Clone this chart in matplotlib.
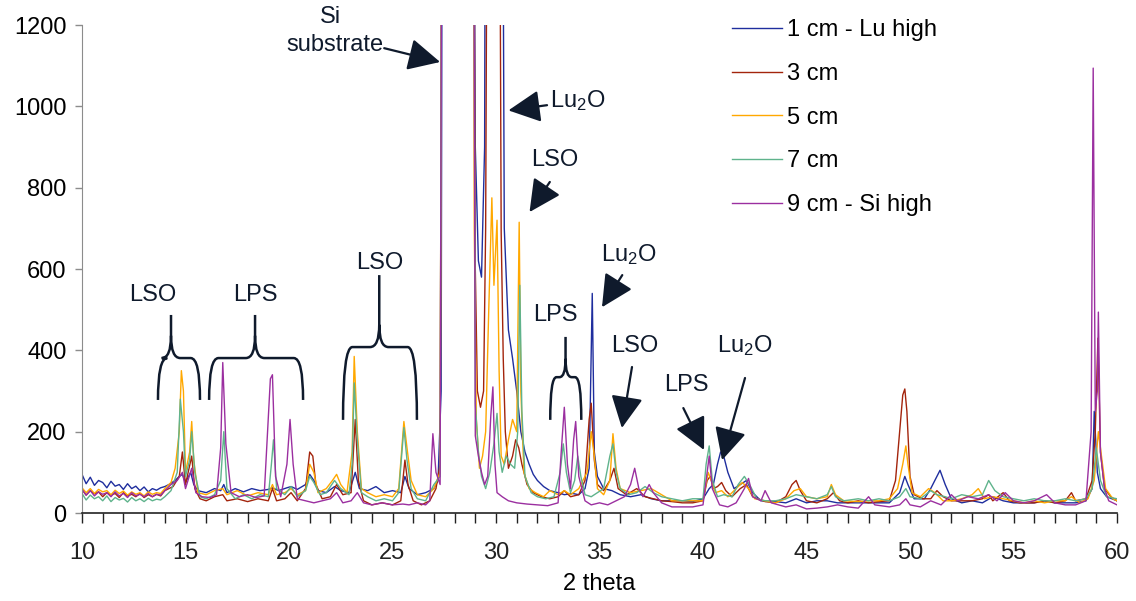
import numpy as np
import matplotlib
matplotlib.use("Agg")
import matplotlib.pyplot as plt
from matplotlib.path import Path
from matplotlib.patches import PathPatch

plt.rcParams['font.family'] = ['Liberation Sans', 'DejaVu Sans']
plt.rcParams['mathtext.default'] = 'regular'

labels = ["1 cm - Lu high", "3 cm", "5 cm", "7 cm", "9 cm - Si high"]
colors = ["#1f2e9e", "#a3240c", "#ffa800", "#5fb38c", "#9b2fa0"]

cm1 = [(10.0, 95), (10.2, 72), (10.4, 88), (10.6, 68), (10.8, 80), (11.0, 75), (11.2, 62), (11.4, 78),
       (11.6, 66), (11.8, 70), (12.0, 58), (12.2, 72), (12.4, 60), (12.6, 66), (12.8, 55), (13.0, 64),
       (13.2, 52), (13.4, 60), (13.6, 56), (13.8, 62), (14.0, 65), (14.2, 70), (14.5, 80), (14.7, 90),
       (14.85, 95), (15.0, 75),
       (15.25, 100), (15.4, 70), (15.6, 55), (16.0, 50), (16.4, 60), (16.7, 55), (16.85, 70), (17.0, 50),
       (17.4, 60), (17.8, 52), (18.2, 60), (18.6, 55), (19.0, 58), (19.2, 62), (19.5, 55), (19.9, 62),
       (20.1, 65), (20.4, 58), (20.8, 70), (21.0, 95), (21.2, 80), (21.4, 55), (21.8, 50), (22.2, 65),
       (22.5, 55), (22.9, 50), (23.2, 100), (23.4, 60), (23.8, 55), (24.2, 65), (24.6, 50), (25.0, 55),
       (25.4, 50), (25.6, 90), (25.8, 60), (26.2, 45), (26.6, 50), (27.0, 60), (27.2, 80), (27.35, 300),
       (27.45, 3000), (28.8, 3000), (29.0, 900), (29.15, 620), (29.3, 580), (29.45, 900), (29.5, 2000),
       (30.3, 2000), (30.4, 700), (30.6, 450), (30.8, 380), (31.0, 300), (31.2, 200), (31.4, 150),
       (31.6, 120), (31.8, 95), (32.0, 80), (32.3, 65), (32.6, 55), (33.0, 50), (33.3, 45), (33.7, 48),
       (34.0, 45), (34.3, 60), (34.5, 110), (34.65, 540), (34.75, 150), (34.9, 90), (35.2, 60), (35.6, 55),
       (36.0, 45), (36.5, 40), (37.0, 45), (37.5, 35), (38.0, 30), (38.5, 30), (39.0, 30), (39.5, 28),
       (40.0, 35), (40.3, 60), (40.5, 70), (40.7, 120), (40.85, 150), (41.0, 140), (41.2, 100), (41.5, 60),
       (41.8, 70), (42.1, 80), (42.4, 50), (42.8, 30), (43.5, 28), (44.0, 25), (44.5, 35), (45.0, 25),
       (45.5, 30), (46.0, 30), (46.5, 25), (47.0, 25), (47.5, 25), (48.0, 25), (48.5, 25), (49.0, 25),
       (49.5, 50), (49.75, 90), (49.9, 70), (50.2, 35), (50.7, 35), (51.0, 60), (51.3, 90), (51.45, 105),
       (51.7, 70), (52.0, 35), (52.5, 25), (53.0, 30), (53.5, 25), (54.0, 40), (54.5, 30), (55.0, 25),
       (55.5, 25), (56.0, 25), (56.5, 30), (57.0, 25), (57.5, 25), (58.0, 25), (58.5, 30), (58.8, 60),
       (58.9, 250), (59.05, 100), (59.2, 60), (59.5, 40), (60.0, 30)]

cm3 = [(10.0, 58), (10.2, 44), (10.4, 55), (10.6, 47), (10.8, 52), (11.0, 40), (11.2, 50), (11.4, 44),
       (11.6, 48), (11.8, 38), (12.0, 50), (12.2, 42), (12.4, 46), (12.6, 40), (12.8, 48), (13.0, 38),
       (13.2, 45), (13.4, 40), (13.6, 46), (13.8, 42), (14.0, 55), (14.4, 65), (14.7, 90), (14.85, 150),
       (15.0, 70), (15.3, 140),
       (15.45, 60), (15.7, 35), (16.0, 30), (16.4, 40), (16.8, 45), (17.0, 30), (17.5, 35), (18.0, 28),
       (18.5, 35), (19.0, 30), (19.2, 60), (19.4, 30), (19.8, 35), (20.1, 50), (20.4, 30), (20.8, 60),
       (21.0, 150), (21.15, 140), (21.3, 70), (21.6, 35), (22.0, 40), (22.3, 70), (22.6, 45), (23.0, 50),
       (23.2, 230), (23.35, 80), (23.6, 30), (24.0, 20), (24.5, 25), (25.0, 20), (25.4, 30), (25.6, 130),
       (25.75, 70), (26.0, 30), (26.4, 20), (26.8, 30), (27.1, 60), (27.3, 120), (27.45, 3000),
       (28.85, 3000), (29.0, 600), (29.1, 300), (29.25, 260), (29.4, 300), (29.5, 700), (29.6, 2000),
       (30.15, 2000), (30.25, 690), (30.35, 380), (30.45, 200), (30.6, 110), (30.8, 140), (30.95, 180),
       (31.1, 160), (31.25, 120), (31.5, 70), (31.8, 50), (32.2, 40), (32.6, 35), (33.0, 40), (33.3, 55),
       (33.6, 40), (34.0, 45), (34.3, 80), (34.5, 230), (34.6, 270), (34.75, 130), (34.9, 70), (35.2, 55),
       (35.5, 80), (35.7, 110), (35.9, 60), (36.3, 45), (36.8, 60), (37.2, 40), (37.6, 35), (38.0, 30),
       (38.5, 28), (39.0, 25), (39.5, 25), (40.0, 30), (40.2, 80), (40.35, 90), (40.5, 60), (40.7, 65),
       (40.9, 75), (41.1, 55), (41.4, 40), (41.8, 60), (42.1, 70), (42.4, 40), (43.0, 28), (43.5, 25),
       (44.0, 40), (44.3, 70), (44.5, 80), (44.7, 55), (45.0, 30), (45.5, 25), (46.0, 35), (46.3, 50),
       (46.6, 30), (47.0, 25), (47.5, 30), (48.0, 25), (48.5, 28), (49.0, 30), (49.3, 80), (49.5, 200),
       (49.65, 290), (49.75, 305), (49.85, 250), (50.0, 90), (50.2, 45), (50.6, 35), (51.0, 35), (51.3, 55),
       (51.6, 40), (52.0, 30), (52.5, 30), (53.0, 30), (53.5, 35), (53.8, 45), (54.0, 30), (54.5, 50),
       (54.8, 30), (55.3, 25), (56.0, 25), (56.5, 30), (57.0, 25), (57.5, 30), (57.8, 50), (58.0, 30),
       (58.5, 35), (58.8, 80), (58.95, 200), (59.08, 430), (59.2, 150), (59.4, 60), (59.7, 40), (60.0, 30)]

cm5 = [(10.0, 62), (10.2, 50), (10.4, 60), (10.6, 48), (10.8, 58), (11.0, 52), (11.2, 55), (11.4, 45),
       (11.6, 56), (11.8, 48), (12.0, 54), (12.2, 44), (12.4, 52), (12.6, 46), (12.8, 50), (13.0, 42),
       (13.2, 52), (13.4, 46), (13.6, 50), (13.8, 48), (14.0, 60), (14.3, 75), (14.5, 110), (14.7, 200),
       (14.8, 350), (14.9, 300),
       (15.0, 100), (15.2, 150), (15.3, 225), (15.4, 130), (15.6, 50), (16.0, 45), (16.4, 55), (16.8, 60),
       (17.0, 45), (17.5, 55), (18.0, 42), (18.5, 50), (19.0, 45), (19.2, 70), (19.4, 45), (19.8, 50),
       (20.1, 60), (20.4, 45), (20.8, 55), (21.0, 120), (21.2, 100), (21.4, 50), (21.8, 60), (22.1, 80),
       (22.3, 95), (22.5, 70), (22.8, 50), (23.05, 150), (23.15, 385), (23.3, 200), (23.5, 60), (23.8, 50),
       (24.2, 40), (24.6, 45), (25.0, 40), (25.3, 60), (25.55, 225), (25.7, 160), (25.9, 80), (26.2, 45),
       (26.6, 40), (27.0, 60), (27.3, 100), (27.45, 3000), (28.85, 3000), (28.95, 700), (29.05, 230),
       (29.2, 110), (29.35, 140), (29.5, 200), (29.65, 500), (29.8, 775), (29.9, 560), (30.05, 720),
       (30.15, 350), (30.25, 140), (30.4, 120), (30.6, 180), (30.8, 230), (31.0, 200), (31.12, 715),
       (31.2, 300), (31.35, 100), (31.6, 60), (31.9, 50), (32.3, 40), (32.6, 55), (33.0, 45), (33.3, 55),
       (33.6, 45), (34.0, 60), (34.4, 100), (34.6, 200), (34.75, 140), (34.9, 60), (35.2, 45), (35.5, 80),
       (35.65, 195), (35.8, 110), (36.0, 60), (36.5, 50), (37.0, 55), (37.5, 60), (38.0, 45), (38.5, 30),
       (39.0, 30), (39.5, 30), (40.0, 30), (40.25, 100), (40.4, 80), (40.6, 50), (40.9, 55), (41.2, 40),
       (41.6, 60), (41.9, 75), (42.2, 60), (42.5, 35), (43.0, 30), (43.5, 25), (44.0, 35), (44.4, 55),
       (44.7, 60), (45.0, 40), (45.5, 35), (46.0, 40), (46.2, 70), (46.4, 45), (46.8, 30), (47.5, 28),
       (48.0, 30), (48.5, 30), (49.0, 35), (49.4, 60), (49.65, 120), (49.8, 165), (49.9, 120), (50.1, 50),
       (50.5, 40), (50.9, 60), (51.2, 50), (51.6, 30), (52.0, 30), (52.5, 35), (53.0, 45), (53.3, 60),
       (53.6, 35), (54.0, 40), (54.5, 35), (55.0, 30), (55.5, 25), (56.0, 30), (56.5, 25), (57.0, 30),
       (57.5, 30), (57.8, 40), (58.2, 25), (58.6, 35), (58.9, 80), (59.1, 200), (59.25, 140), (59.45, 60),
       (59.8, 35), (60.0, 30)]

cm7 = [(10.0, 48), (10.2, 32), (10.4, 44), (10.6, 35), (10.8, 40), (11.0, 30), (11.2, 42), (11.4, 28),
       (11.6, 38), (11.8, 32), (12.0, 36), (12.2, 27), (12.4, 38), (12.6, 30), (12.8, 35), (13.0, 28),
       (13.2, 36), (13.4, 30), (13.6, 34), (13.8, 32), (14.0, 40), (14.3, 55), (14.6, 100), (14.75, 280),
       (14.9, 200), (15.0, 90),
       (15.2, 130), (15.3, 200), (15.45, 100), (15.7, 40), (16.0, 35), (16.4, 45), (16.7, 80), (16.85, 200),
       (17.0, 60), (17.4, 35), (17.8, 45), (18.2, 35), (18.6, 45), (19.0, 40), (19.15, 120), (19.25, 180),
       (19.4, 60), (19.8, 45), (20.1, 65), (20.4, 40), (20.8, 55), (21.0, 90), (21.2, 75), (21.5, 45),
       (21.8, 50), (22.2, 80), (22.5, 60), (22.9, 45), (23.05, 120), (23.15, 320), (23.3, 180), (23.5, 50),
       (23.8, 40), (24.2, 30), (24.6, 35), (25.0, 30), (25.3, 50), (25.55, 210), (25.7, 130), (25.9, 60),
       (26.2, 35), (26.6, 30), (27.0, 70), (27.3, 90), (27.45, 3000), (28.85, 3000), (29.0, 270),
       (29.15, 150), (29.3, 90), (29.5, 60), (29.7, 100), (29.9, 170), (30.05, 245), (30.15, 150),
       (30.3, 100), (30.5, 140), (30.7, 120), (30.9, 110), (31.05, 200), (31.15, 560), (31.25, 250),
       (31.4, 90), (31.7, 50), (32.0, 40), (32.4, 35), (32.8, 40), (33.1, 100), (33.25, 170), (33.4, 100),
       (33.6, 50), (33.8, 80), (33.95, 140), (34.1, 90), (34.3, 45), (34.6, 40), (34.9, 50), (35.2, 60),
       (35.5, 140), (35.65, 170), (35.8, 100), (36.0, 60), (36.4, 45), (36.8, 50), (37.2, 65), (37.6, 50),
       (38.0, 40), (38.5, 35), (39.0, 30), (39.5, 35), (40.0, 35), (40.15, 120), (40.3, 165), (40.45, 80),
       (40.7, 40), (41.0, 45), (41.4, 40), (41.7, 70), (42.0, 90), (42.3, 65), (42.6, 35), (43.0, 30),
       (43.5, 30), (44.0, 35), (44.5, 45), (45.0, 40), (45.5, 35), (46.0, 45), (46.2, 65), (46.4, 40),
       (46.8, 30), (47.5, 35), (48.0, 30), (48.5, 35), (49.0, 30), (49.5, 40), (49.8, 60), (50.0, 40),
       (50.5, 35), (51.0, 55), (51.3, 45), (51.7, 40), (52.0, 35), (52.5, 45), (53.0, 40), (53.5, 45),
       (53.8, 80), (54.1, 55), (54.5, 40), (55.0, 35), (55.5, 30), (56.0, 35), (56.5, 30), (57.0, 30),
       (57.5, 35), (58.0, 30), (58.5, 35), (58.8, 60), (59.0, 160), (59.2, 80), (59.5, 40), (60.0, 35)]

cm9 = [(10.0, 58), (10.2, 44), (10.4, 55), (10.6, 42), (10.8, 52), (11.0, 46), (11.2, 50), (11.4, 40),
       (11.6, 52), (11.8, 42), (12.0, 48), (12.2, 38), (12.4, 50), (12.6, 42), (12.8, 46), (13.0, 40),
       (13.2, 48), (13.4, 40), (13.6, 46), (13.8, 44), (14.0, 55), (14.3, 70), (14.6, 80), (14.85, 100),
       (15.0, 60), (15.3, 110),
       (15.5, 50), (15.8, 40), (16.2, 38), (16.5, 45), (16.7, 160), (16.8, 370), (16.95, 170), (17.2, 50),
       (17.6, 40), (18.0, 45), (18.4, 38), (18.8, 42), (19.1, 330), (19.2, 340), (19.35, 90), (19.6, 40),
       (19.9, 120), (20.05, 230), (20.2, 120), (20.4, 35), (20.8, 30), (21.2, 25), (21.6, 30), (22.0, 35),
       (22.3, 50), (22.6, 25), (23.0, 30), (23.3, 50), (23.6, 25), (24.0, 20), (24.5, 25), (25.0, 20),
       (25.5, 22), (25.8, 20), (26.2, 25), (26.6, 20), (26.8, 30), (26.95, 195), (27.1, 100), (27.3, 70),
       (27.45, 3000), (28.85, 3000), (29.0, 190), (29.15, 140), (29.3, 100), (29.45, 70), (29.6, 90),
       (29.75, 240), (29.85, 310), (29.95, 120), (30.05, 50), (30.3, 40), (30.6, 30), (31.0, 25),
       (31.5, 22), (32.0, 20), (32.5, 18), (33.0, 25), (33.15, 150), (33.3, 260), (33.45, 120), (33.6, 60),
       (33.75, 180), (33.85, 225), (34.0, 90), (34.3, 30), (34.6, 20), (35.0, 25), (35.4, 20), (35.8, 30),
       (36.2, 40), (36.5, 70), (36.7, 110), (36.9, 60), (37.1, 40), (37.4, 70), (37.6, 50), (38.0, 25),
       (38.5, 15), (39.0, 15), (39.5, 15), (40.0, 20), (40.2, 100), (40.3, 140), (40.45, 60), (40.8, 20),
       (41.2, 15), (41.6, 25), (42.0, 60), (42.2, 85), (42.4, 40), (42.8, 30), (43.0, 55), (43.3, 25),
       (44.0, 15), (44.5, 20), (45.0, 10), (45.5, 12), (46.0, 15), (46.5, 20), (47.0, 15), (47.5, 12),
       (48.0, 40), (48.3, 20), (49.0, 15), (49.5, 20), (49.8, 35), (50.0, 20), (50.5, 15), (51.0, 30),
       (51.5, 20), (52.0, 45), (52.3, 30), (52.8, 40), (53.3, 35), (53.8, 45), (54.2, 30), (54.6, 50),
       (55.0, 30), (55.5, 25), (56.0, 30), (56.6, 45), (57.0, 25), (57.5, 20), (58.0, 20), (58.5, 30),
       (58.75, 200), (58.85, 1094), (58.95, 250), (59.05, 300), (59.1, 494), (59.2, 150), (59.4, 60),
       (59.6, 30), (59.8, 25), (60.0, 20)]

series = [cm1, cm3, cm5, cm7, cm9]

fig = plt.figure(figsize=(11.36, 6.01), dpi=100)
ax = fig.add_axes([82 / 1136, 88 / 601, 1035 / 1136, 488 / 601])

for data, lab, col in zip(series, labels, colors):
    arr = np.array(data, dtype=float)
    ax.plot(arr[:, 0], arr[:, 1], color=col, lw=1.0, label=lab)

ax.set_xlim(10, 60)
ax.set_ylim(0, 1200)
ax.set_xticks(np.arange(10, 61, 5))
ax.set_xticks(np.arange(10, 61, 1), minor=True)
ax.set_yticks(np.arange(0, 1201, 200))
for s in ['top', 'right']:
    ax.spines[s].set_visible(False)
ax.spines['left'].set_color('#8c8c8c')
ax.spines['bottom'].set_color('#222222')
ax.spines['bottom'].set_linewidth(1.2)
ax.tick_params(axis='x', which='both', direction='out', length=7, width=1.0, colors='#222222',
               labelsize=17, pad=14)
ax.tick_params(axis='y', which='major', direction='out', length=5, width=1.0, colors='#8c8c8c',
               labelcolor='black', labelsize=17, pad=6)
ax.set_xlabel('2 theta', fontsize=17, labelpad=6)

leg = ax.legend(loc='upper left', bbox_to_anchor=(732 / 1136, 0.968), bbox_transform=fig.transFigure,
                frameon=False, fontsize=17, handlelength=2.1, handletextpad=0.25, labelspacing=0.92,
                borderpad=0, borderaxespad=0)

ink = '#0f1a2c'
arrow = dict(arrowstyle='-|>,head_length=0.9,head_width=0.45', color=ink, lw=1.6,
             shrinkA=0, shrinkB=0, mutation_scale=22)
fs = 17

# Si substrate
ax.text(22.0, 1220, 'Si', fontsize=fs, ha='center', va='center', color=ink, clip_on=False)
ax.text(22.2, 1152, 'substrate', fontsize=fs, ha='center', va='center', color=ink, clip_on=False)
ax.annotate('', xy=(27.3, 1109), xytext=(24.6, 1143), arrowprops=arrow, annotation_clip=False)
# Lu2O near 30
ax.annotate('Lu$_2$O', xy=(30.6, 990), xytext=(32.6, 1013), fontsize=fs, color=ink,
            ha='left', va='center', arrowprops=arrow)
# LSO near 31
ax.text(32.85, 868, 'LSO', fontsize=fs, ha='center', va='center', color=ink)
ax.annotate('', xy=(31.62, 740), xytext=(32.6, 814), arrowprops=arrow)
# Lu2O near 35
ax.text(36.4, 635, 'Lu$_2$O', fontsize=fs, ha='center', va='center', color=ink)
ax.annotate('', xy=(35.12, 506), xytext=(36.1, 585), arrowprops=arrow)
# LSO near 36
ax.text(36.7, 411, 'LSO', fontsize=fs, ha='center', va='center', color=ink)
ax.annotate('', xy=(36.08, 209), xytext=(36.57, 359), arrowprops=arrow)
# LPS near 40
ax.text(39.2, 315, 'LPS', fontsize=fs, ha='center', va='center', color=ink)
ax.annotate('', xy=(40.05, 155), xytext=(39.05, 258), arrowprops=arrow)
# Lu2O near 41
ax.text(42.0, 411, 'Lu$_2$O', fontsize=fs, ha='center', va='center', color=ink)
ax.annotate('', xy=(40.92, 130), xytext=(42.03, 332), arrowprops=arrow)


def brace(x0, x1, xc, yb, ym, yt, dx=0.45, dy=55):
    verts = [(x0, yb), (x0, ym), (x0 + dx, ym), (xc - dx, ym), (xc, ym), (xc, ym + dy), (xc, yt),
             (x1, yb), (x1, ym), (x1 - dx, ym), (xc + dx, ym), (xc, ym), (xc, ym + dy)]
    codes = [Path.MOVETO, Path.CURVE3, Path.CURVE3, Path.LINETO, Path.CURVE3, Path.CURVE3, Path.LINETO,
             Path.MOVETO, Path.CURVE3, Path.CURVE3, Path.LINETO, Path.CURVE3, Path.CURVE3]
    ax.add_patch(PathPatch(Path(verts, codes), fill=False, ec=ink, lw=1.8, capstyle='butt'))


brace(13.67, 15.70, 14.30, 278, 381, 487)
ax.text(13.4, 535, 'LSO', fontsize=fs, ha='center', va='center', color=ink)
brace(16.14, 20.68, 18.36, 278, 381, 487)
ax.text(18.36, 535, 'LPS', fontsize=fs, ha='center', va='center', color=ink)
brace(22.61, 26.18, 24.36, 229, 408, 585)
ax.text(24.36, 615, 'LSO', fontsize=fs, ha='center', va='center', color=ink)
brace(32.62, 34.12, 33.36, 229, 334, 433, dx=0.3, dy=45)
ax.text(32.85, 487, 'LPS', fontsize=fs, ha='center', va='center', color=ink)

fig.savefig('out.png', dpi=100)
